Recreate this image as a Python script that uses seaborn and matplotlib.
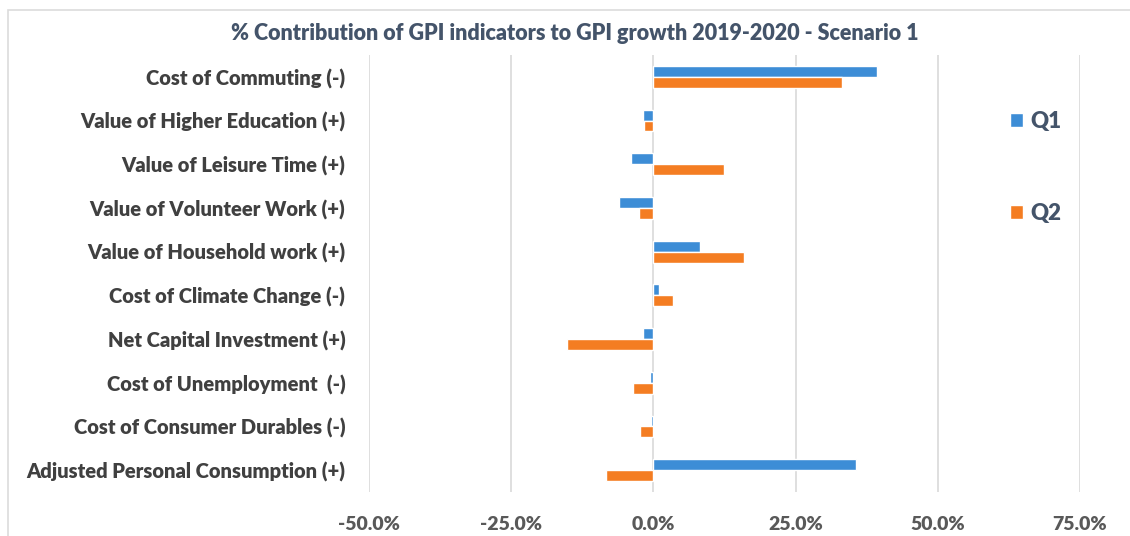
import matplotlib
matplotlib.use("Agg")
from matplotlib import pyplot as plt
from matplotlib.patches import Rectangle
from matplotlib.ticker import FuncFormatter
import pandas as pd
import seaborn as sns

indicators = [
    "Cost of Commuting (-)",
    "Value of Higher Education (+)",
    "Value of Leisure Time (+)",
    "Value of Volunteer Work (+)",
    "Value of Household work (+)",
    "Cost of Climate Change (-)",
    "Net Capital Investment (+)",
    "Cost of Unemployment  (-)",
    "Cost of Consumer Durables (-)",
    "Adjusted Personal Consumption (+)",
]
q1 = [39.3, -1.9, -4.0, -6.1, 8.2, 1.0, -1.9, -0.5, -0.4, 35.6]
q2 = [33.1, -1.6, 12.5, -2.5, 16.0, 3.5, -15.1, -3.6, -2.3, -8.3]
quarters = ["Q1", "Q2"]
x_ticks = [-50, -25, 0, 25, 50, 75]

df = pd.DataFrame({
    "indicator": indicators * 2,
    "quarter": ["Q1"] * len(indicators) + ["Q2"] * len(indicators),
    "pct": q1 + q2,
})

sns.set_theme(style="white")
plt.rcParams["font.family"] = ["Lato", "DejaVu Sans"]

fig = plt.figure(figsize=(11.3, 5.36), dpi=100)
ax = fig.add_axes([0.3265, 0.0821, 0.6292, 0.8153])

# light frame round the chart like the Excel chart area
fig.patches.append(Rectangle((8 / 1130, -0.05), 1.1, 1 - 10 / 536 + 0.05,
                             transform=fig.transFigure, fill=False,
                             edgecolor="#DCDCDC", linewidth=1.2))

sns.barplot(data=df, y="indicator", x="pct", hue="quarter", orient="h",
            palette=["#3D8DD6", "#F47D22"], width=0.5, ax=ax,
            saturation=1, legend=True)

ax.set_xlim(-50, 75)
ax.set_ylim(9.5, -0.5)
ax.set_xticks(x_ticks)
ax.xaxis.set_major_formatter(FuncFormatter(lambda v, p: f"{v:.1f}%"))
ax.grid(axis="x", color="#D9D9D9", linewidth=1.2)
ax.set_axisbelow(True)
for s in ax.spines.values():
    s.set_visible(False)
ax.set_xlabel("")
ax.set_ylabel("")
ax.tick_params(axis="x", pad=17, length=0, labelsize=14, labelcolor="#595959")
ax.tick_params(axis="y", pad=17, length=0, labelsize=14.5, labelcolor="#404040")
for lab in ax.get_xticklabels() + ax.get_yticklabels():
    lab.set_fontweight("heavy")

leg = ax.legend(loc="upper left", bbox_to_anchor=(990 / 1130, 1 - 91 / 536),
                bbox_transform=fig.transFigure, frameon=False,
                handlelength=0.6, handleheight=0.6, handletextpad=0.3,
                labelspacing=3.2, prop={"weight": "heavy", "size": 16})
for t in leg.get_texts():
    t.set_color("#44546A")

fig.text(575 / 1130, 1 - 33 / 536,
         "% Contribution of GPI indicators to GPI growth 2019-2020 - Scenario 1",
         ha="center", va="center", fontsize=15.5, fontweight="heavy",
         color="#44546A")

fig.savefig("out.png", dpi=100, facecolor="white")
